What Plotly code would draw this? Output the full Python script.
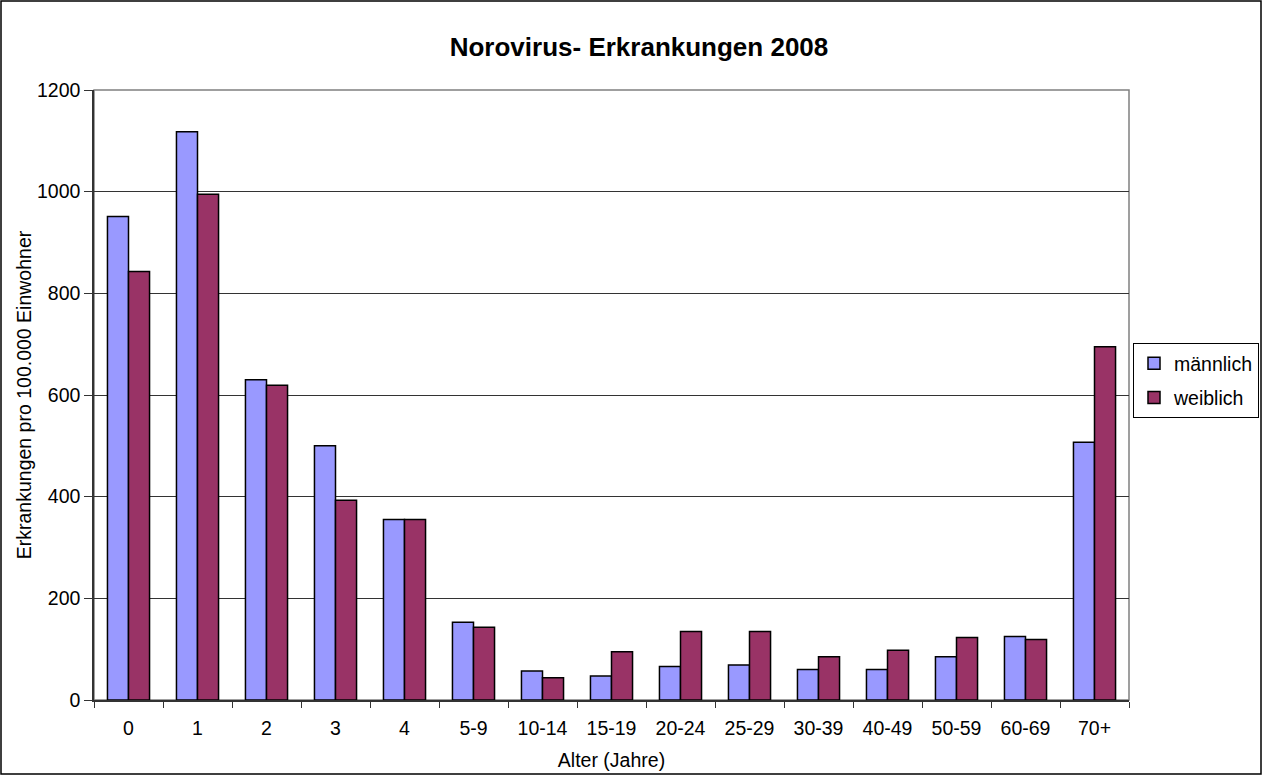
import plotly.graph_objects as go

categories = ["0", "1", "2", "3", "4", "5-9", "10-14", "15-19", "20-24", "25-29",
              "30-39", "40-49", "50-59", "60-69", "70+"]
maennlich = [951, 1118, 630, 500, 355, 153, 57, 47, 66, 69, 60, 60, 85, 125, 507]
weiblich = [843, 995, 619, 393, 355, 143, 44, 95, 135, 135, 85, 98, 123, 119, 695]

W, H = 1263, 776
L, R, T, B = 94, 134, 90, 76
pw, ph = W - L - R, H - T - B

font = "Liberation Sans, Arial, sans-serif"
fs = 19.5

fig = go.Figure()
fig.add_trace(go.Bar(name="männlich", x=categories, y=maennlich, legendgroup="m",
                     marker=dict(color="#9999ff", line=dict(color="black", width=1.5))))
fig.add_trace(go.Bar(name="weiblich", x=categories, y=weiblich, legendgroup="w",
                     marker=dict(color="#993366", line=dict(color="black", width=1.5))))

fig.update_layout(
    width=W, height=H,
    margin=dict(l=L, r=R, t=T, b=B, autoexpand=False),
    paper_bgcolor="white", plot_bgcolor="white",
    font=dict(family=font, size=fs, color="black"),
    barmode="group", bargap=0.39, bargroupgap=0,
    title=dict(text="<b>Norovirus- Erkrankungen 2008</b>", x=639 / W, xref="container",
               xanchor="center", y=1 - 47 / H, yanchor="middle",
               font=dict(family=font, size=26, color="black")),
    xaxis=dict(type="category", tickson="boundaries", ticks="outside", ticklen=6,
               tickcolor="#333", showgrid=False, showline=True, linecolor="#333",
               linewidth=1.5, zeroline=False, tickfont=dict(size=fs),
               ticklabelstandoff=10,
               title=dict(text="Alter (Jahre)", standoff=15, font=dict(size=fs))),
    yaxis=dict(range=[0, 1200], dtick=200, ticks="outside", ticklen=8, tickcolor="#333",
               showgrid=True, gridcolor="#333", gridwidth=1, showline=True,
               linecolor="#333", linewidth=1.5, zeroline=False, tickfont=dict(size=fs),
               title=dict(text="Erkrankungen pro 100.000 Einwohner", standoff=0,
                          font=dict(size=fs))),
    legend=dict(x=1 + 4 / pw, y=1 - (343 - T) / ph, xanchor="left", yanchor="top",
                bordercolor="black", borderwidth=1, bgcolor="white",
                font=dict(family=font, size=fs), tracegroupgap=6,
                itemwidth=30),
    showlegend=True,
)

# plot-area frame (gray top/right)
fig.add_shape(type="rect", xref="paper", yref="paper", x0=0, x1=1, y0=0, y1=1,
              line=dict(color="#808080", width=1.5), layer="below")
# outer chart border
fig.add_shape(type="rect", xref="paper", yref="paper",
              x0=(1 - L) / pw, x1=(W - 2 - L) / pw,
              y0=-(B - 2) / ph, y1=1 + (T - 1) / ph,
              line=dict(color="black", width=1.5))

fig.write_html("out.html", config={"displayModeBar": False},
               post_script="document.body.style.margin='0';")
